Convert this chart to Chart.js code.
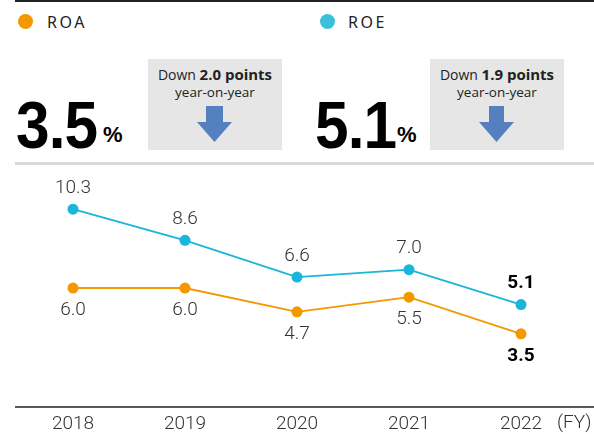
<!DOCTYPE html>
<html>
<head>
<meta charset="utf-8">
<script src="https://cdn.jsdelivr.net/npm/chart.js@4.4.0/dist/chart.umd.min.js"></script>
<style>
	body { margin: 0; background: #fff; font-family: 'Open Sans', sans-serif; color: #222; }
	#page { position: relative; width: 594px; height: 434px; overflow: hidden; }
	.abs { position: absolute; }
	.topline { left: 15px; top: 0; width: 579px; height: 2px; background: #222; }
	.sepline { left: 15px; top: 162px; width: 579px; height: 3px; background: #d9d9d9; }
	.dot { width: 15px; height: 15px; border-radius: 50%; top: 14px; }
	.legtext { top: 10px; font-family: 'Noto Sans', sans-serif; font-size: 16px; letter-spacing: 2.5px; line-height: 24px; color: #222; }
	.big { top: 91px; font-family: 'Liberation Sans', Arial, sans-serif; font-weight: bold; font-size: 67px; line-height: 67px; letter-spacing: -1px; color: #000; transform: scaleX(0.9); transform-origin: 0 0; }
	.pct { top: 124px; font-family: 'Liberation Sans', Arial, sans-serif; font-weight: bold; font-size: 22px; line-height: 22px; color: #000; }
	.box { top: 59px; width: 134px; height: 91px; background: #e6e6e6; }
	.box .l1 { position: absolute; left: 0; width: 100%; top: 5px; text-align: center; font-size: 14px; line-height: 20px; color: #222; }
	.box .l1 b { font-size: 15px; }
	.box .l2 { position: absolute; left: 0; width: 100%; top: 24px; text-align: center; font-size: 13.5px; line-height: 18px; color: #222; }
	.box svg { position: absolute; left: 0; top: 0; }
	.fy { left: 557px; top: 410px; font-family: 'Roboto', sans-serif; font-weight: 300; font-size: 19px; line-height: 24px; color: #333; }
	#wrap { position: absolute; left: 0; top: 163px; width: 594px; height: 271px; }
</style>
</head>
<body>
<div id="page">
	<div class="abs topline"></div>

	<div class="abs dot" style="left:18px;background:#f39800"></div>
	<div class="abs legtext" style="left:47px">ROA</div>
	<div class="abs dot" style="left:320px;background:#3bbfdb"></div>
	<div class="abs legtext" style="left:348px">ROE</div>

	<div class="abs big" style="left:16px">3.5</div>
	<div class="abs pct" style="left:103px">%</div>
	<div class="abs box" style="left:148px">
		<div class="l1">Down <b>2.0 points</b></div>
		<div class="l2">year-on-year</div>
		<svg width="134" height="91"><polygon points="58,47 75,47 75,63 84,63 66.5,83 49,63 58,63" fill="#5580c0"/></svg>
	</div>

	<div class="abs big" style="left:315px">5.1</div>
	<div class="abs pct" style="left:397px">%</div>
	<div class="abs box" style="left:430px">
		<div class="l1">Down <b>1.9 points</b></div>
		<div class="l2">year-on-year</div>
		<svg width="134" height="91"><polygon points="59,47 74,47 74,63 84,63 66.5,83 49,63 59,63" fill="#5580c0"/></svg>
	</div>

	<div class="abs sepline"></div>
	<div id="wrap"><canvas id="myChart"></canvas></div>
	<div class="abs fy">(FY)</div>
</div>
<script>
const years = ['2018', '2019', '2020', '2021', '2022']
const roe = [10.3, 8.6, 6.6, 7.0, 5.1]
const roa = [6.0, 6.0, 4.7, 5.5, 3.5]

const roeColor = '#17b6da'
const roaColor = '#f39800'

// value labels: ROE above the point, ROA below, last year in bold
const valueLabels = {
	id: 'valueLabels',
	afterDatasetsDraw(chart) {
		const ctx = chart.ctx
		ctx.save()
		ctx.textAlign = 'center'
		ctx.textBaseline = 'middle'
		chart.data.datasets.forEach((ds, di) => {
			const meta = chart.getDatasetMeta(di)
			meta.data.forEach((pt, i) => {
				const last = i === ds.data.length - 1
				ctx.font = (last ? 'bold 19px' : '300 19px') + ' Roboto, sans-serif'
				ctx.fillStyle = last ? '#000' : '#333'
				const dy = ds.labelPos === 'above' ? -21 : 22
				ctx.fillText(ds.data[i].toFixed(1), pt.x, pt.y + dy)
			})
		})
		ctx.restore()
	},
}

// baseline runs the full width, past the plot area
const baseLine = {
	id: 'baseLine',
	beforeDatasetsDraw(chart) {
		const ctx = chart.ctx
		const y = chart.chartArea.bottom
		ctx.save()
		ctx.strokeStyle = '#222'
		ctx.lineWidth = 1.5
		ctx.beginPath()
		ctx.moveTo(15, y)
		ctx.lineTo(chart.width, y)
		ctx.stroke()
		ctx.restore()
	},
}

var ctx = document.getElementById('myChart').getContext('2d')
var myChart = new Chart(ctx, {
	type: 'line',
	data: {
		labels: years,
		datasets: [
			{
				label: 'ROE',
				data: roe,
				labelPos: 'above',
				borderColor: roeColor,
				backgroundColor: roeColor,
				borderWidth: 1.8,
				pointRadius: 5.5,
				pointBorderWidth: 0,
				tension: 0,
			},
			{
				label: 'ROA',
				data: roa,
				labelPos: 'below',
				borderColor: roaColor,
				backgroundColor: roaColor,
				borderWidth: 1.8,
				pointRadius: 5.5,
				pointBorderWidth: 0,
				tension: 0,
			},
		],
	},
	options: {
		responsive: true,
		maintainAspectRatio: false,
		animation: false,
		layout: { padding: { left: 17, right: 17, top: 0, bottom: 0 } },
		plugins: {
			legend: { display: false },
			tooltip: { enabled: false },
		},
		scales: {
			x: {
				offset: true,
				grid: { display: false, drawTicks: false },
				border: { display: false },
				ticks: {
					padding: 6,
					color: '#333',
					font: { family: 'Roboto, sans-serif', size: 19, weight: 300 },
				},
				afterFit: (scale) => {
					scale.height = 27
				},
			},
			y: {
				display: false,
				min: -0.49,
				max: 12.52,
			},
		},
	},
	plugins: [valueLabels, baseLine],
})
</script>
</body>
</html>
